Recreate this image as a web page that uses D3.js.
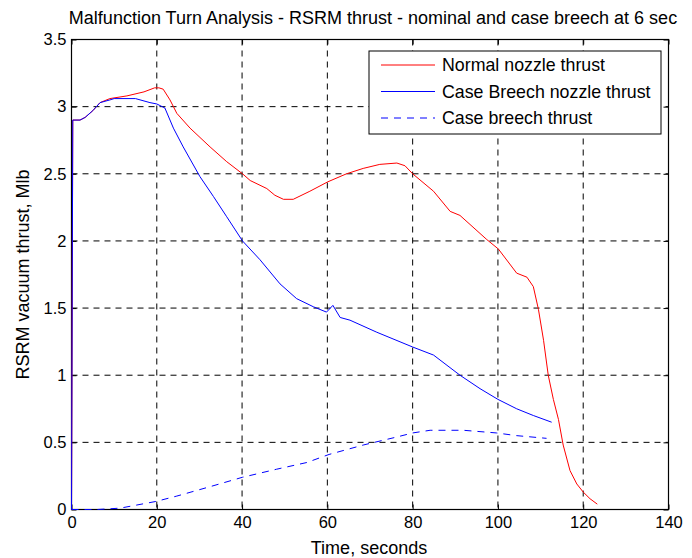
<!DOCTYPE html>
<html>
<head>
<meta charset="utf-8">
<script src="https://cdn.jsdelivr.net/npm/d3@7"></script>
<style>
  body { margin: 0; background: #fff; }
  svg text { font-family: "Liberation Sans", Arial, sans-serif; fill: #000; }
</style>
</head>
<body>
<svg id="chart" width="692" height="558"></svg>
<script>
// data: [time s, thrust Mlb]
var normalNozzle = [
  [0, 0], [0.3, 2.9], [2, 2.9], [3.2, 2.92], [5, 2.97], [6.7, 3.03], [9, 3.06],
  [13, 3.08], [17, 3.11], [19.5, 3.14], [20.5, 3.14], [21.5, 3.13], [23.1, 3.05],
  [24.7, 2.95], [27.8, 2.84], [32.5, 2.70], [36.4, 2.59], [40.1, 2.50], [41.9, 2.45],
  [45.8, 2.39], [47.7, 2.34], [49.7, 2.31], [52.0, 2.31], [55.9, 2.37], [60.1, 2.44],
  [64.5, 2.50], [68.4, 2.54], [72.3, 2.57], [76.3, 2.58], [78.2, 2.56], [80.0, 2.50],
  [84.9, 2.37], [88.8, 2.22], [91.1, 2.19], [97.4, 2.01], [100.1, 1.94], [104.4, 1.76],
  [106.8, 1.73], [108.3, 1.66], [109.5, 1.49], [110.7, 1.26], [111.8, 1.00], [113.0, 0.82],
  [114.2, 0.67], [115.3, 0.48], [116.9, 0.29], [118.5, 0.19], [120.0, 0.13], [121.6, 0.08],
  [123.3, 0.04]
];
var breechNozzle = [
  [0, 0], [0.3, 2.9], [2, 2.9], [3.2, 2.92], [5, 2.97], [6.7, 3.03], [9, 3.05],
  [10, 3.06], [15, 3.06], [18.4, 3.03], [20, 3.02], [21.9, 2.99], [23.9, 2.84],
  [26.2, 2.70], [30.1, 2.48], [33.3, 2.33], [36.4, 2.18], [40.1, 2.00], [44.2, 1.86],
  [48.9, 1.68], [52.8, 1.57], [56.7, 1.51], [59.8, 1.47], [61.3, 1.52], [63.0, 1.43],
  [65.3, 1.41], [71.6, 1.32], [80.0, 1.21], [84.9, 1.15], [91.1, 1.00], [95.8, 0.90],
  [100.0, 0.82], [104.4, 0.75], [108.3, 0.70], [112.6, 0.65]
];
var breechThrust = [
  [0, 0], [6, 0], [11.4, 0.01], [19.8, 0.06], [24.7, 0.10], [32.5, 0.17], [40.1, 0.24],
  [48.1, 0.30], [55.2, 0.35], [60.4, 0.41], [68.4, 0.48], [76.3, 0.54], [80.0, 0.57],
  [84.1, 0.59], [91.9, 0.59], [99.7, 0.57], [104.4, 0.55], [111.4, 0.53]
];
var xTicks = [0, 20, 40, 60, 80, 100, 120, 140];
var yTicks = [0, 0.5, 1, 1.5, 2, 2.5, 3, 3.5];
var seriesNames = ["Normal nozzle thrust", "Case Breech nozzle thrust", "Case breech thrust"];

var svg = d3.select("#chart");
var plotLeft = 71.5, plotRight = 668.5, plotTop = 39.5, plotBottom = 509.5;

var x = d3.scaleLinear().domain([0, 140]).range([plotLeft, plotRight]);
var y = d3.scaleLinear().domain([0, 3.5]).range([plotBottom, plotTop]);

// grid
svg.append("g").selectAll("line")
  .data(xTicks.slice(1, -1)).enter().append("line")
    .attr("x1", function(d) { return x(d); }).attr("x2", function(d) { return x(d); })
    .attr("y1", plotTop).attr("y2", plotBottom)
    .attr("stroke", "#000").attr("stroke-dasharray", "6,5").attr("stroke-width", 1);
svg.append("g").selectAll("line")
  .data(yTicks.slice(1, -1)).enter().append("line")
    .attr("y1", function(d) { return y(d); }).attr("y2", function(d) { return y(d); })
    .attr("x1", plotLeft).attr("x2", plotRight)
    .attr("stroke", "#000").attr("stroke-dasharray", "6,5").attr("stroke-width", 1);

// axes with inward ticks, also on top and right
function styleAxis(g) {
  g.select(".domain").remove();
  g.selectAll("text").style("font-size", "16.5px").attr("fill", "#000");
  g.selectAll("line").attr("stroke", "#000");
}
svg.append("g").attr("transform", "translate(0," + plotBottom + ")")
  .call(d3.axisBottom(x).tickValues(xTicks).tickSizeInner(-5).tickSizeOuter(0).tickPadding(7))
  .call(styleAxis);
svg.append("g").attr("transform", "translate(" + plotLeft + ",0)")
  .call(d3.axisLeft(y).tickValues(yTicks).tickSizeInner(-5).tickSizeOuter(0).tickPadding(5)
    .tickFormat(d3.format("")))
  .call(styleAxis);
svg.append("g").attr("transform", "translate(0," + plotTop + ")")
  .call(d3.axisTop(x).tickValues(xTicks).tickSizeInner(-5).tickSizeOuter(0).tickFormat(""))
  .call(styleAxis);
svg.append("g").attr("transform", "translate(" + plotRight + ",0)")
  .call(d3.axisRight(y).tickValues(yTicks).tickSizeInner(-5).tickSizeOuter(0).tickFormat(""))
  .call(styleAxis);

svg.append("rect")
  .attr("x", plotLeft).attr("y", plotTop).attr("width", plotRight - plotLeft).attr("height", plotBottom - plotTop)
  .attr("fill", "none").attr("stroke", "#000").attr("stroke-width", 1.2);

// lines
var line = d3.line().x(function(d) { return x(d[0]); }).y(function(d) { return y(d[1]); });
var styles = [
  { data: normalNozzle, color: "#ff0000", dash: null },
  { data: breechNozzle, color: "#0000ff", dash: null },
  { data: breechThrust, color: "#0000ff", dash: "7,6" }
];
styles.forEach(function(s) {
  svg.append("path").datum(s.data)
    .attr("d", line).attr("fill", "none")
    .attr("stroke", s.color).attr("stroke-width", 1)
    .attr("stroke-dasharray", s.dash);
});

// legend
var lg = svg.append("g");
lg.append("rect").attr("x", 369).attr("y", 51).attr("width", 292).attr("height", 83)
  .attr("fill", "#fff").attr("stroke", "#000").attr("stroke-width", 1);
seriesNames.forEach(function(name, i) {
  var yy = 65 + i * 26.5;
  lg.append("line").attr("x1", 381).attr("x2", 435).attr("y1", yy).attr("y2", yy)
    .attr("stroke", styles[i].color).attr("stroke-width", 1)
    .attr("stroke-dasharray", styles[i].dash);
  lg.append("text").attr("x", 442).attr("y", yy).attr("dy", "0.35em")
    .style("font-size", "17.8px").text(name);
});

// titles
svg.append("text").attr("x", 373).attr("y", 24).attr("text-anchor", "middle")
  .style("font-size", "18px")
  .text("Malfunction Turn Analysis - RSRM thrust - nominal and case breech at 6 sec");
svg.append("text").attr("x", 369).attr("y", 554).attr("text-anchor", "middle")
  .style("font-size", "18px").text("Time, seconds");
svg.append("text").attr("transform", "translate(29," + ((plotTop + plotBottom) / 2) + ") rotate(-90)")
  .attr("text-anchor", "middle").style("font-size", "18px").text("RSRM vacuum thrust, Mlb");
</script>
</body>
</html>
